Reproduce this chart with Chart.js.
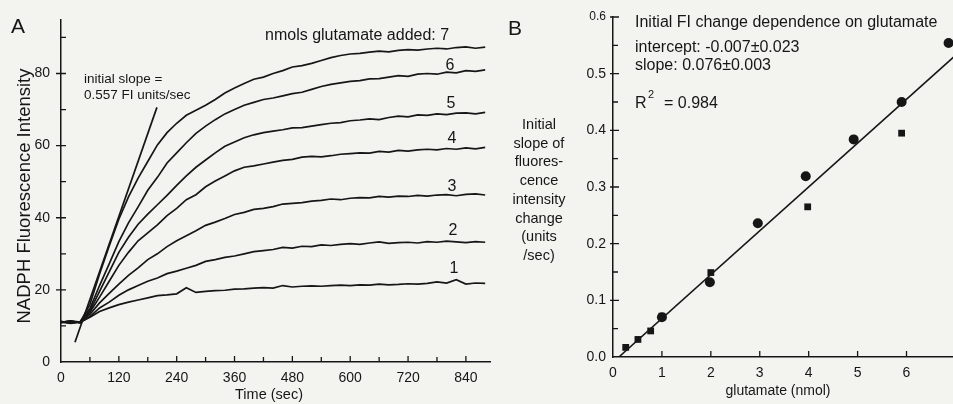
<!DOCTYPE html>
<html>
<head>
<meta charset="utf-8">
<title>NADPH fluorescence vs glutamate</title>
<script src="https://cdn.jsdelivr.net/npm/chart.js@4.4.1/dist/chart.umd.min.js"></script>
<style>
  html, body { margin: 0; padding: 0; }
  body { width: 953px; height: 404px; overflow: hidden; position: relative; background: #f3f3f0; }
  #panelA { position: absolute; left: 0; top: 0; }
  #panelB { position: absolute; left: 500px; top: 0; }
</style>
</head>
<body>
<canvas id="panelA" width="500" height="404"></canvas>
<canvas id="panelB" width="480" height="404"></canvas>
<script>
// ---- panel A: fluorescence traces, one per nmol glutamate added ----
const times = [0, 20, 40, 60, 80, 100, 120, 140, 160, 180,
  200, 220, 240, 260, 280, 300, 320, 340, 360, 380,
  400, 420, 440, 460, 480, 500, 520, 540, 560, 580,
  600, 620, 640, 660, 680, 700, 720, 740, 760, 780,
  800, 820, 840, 860, 880];

const trace1 = [11.2, 10.8, 11.1, 12.4, 14.0, 15.0, 15.9, 16.6, 17.2, 17.8,
  18.4, 18.6, 18.9, 20.6, 19.3, 19.6, 19.8, 19.9, 20.2, 20.3,
  20.5, 20.6, 20.5, 21.2, 20.8, 21.0, 21.1, 21.0, 21.2, 21.3,
  21.2, 21.4, 21.3, 21.6, 21.4, 21.5, 21.7, 21.6, 21.8, 22.2,
  21.9, 22.8, 21.6, 21.9, 21.8];
const trace2 = [11.0, 11.3, 10.9, 12.6, 15.0, 16.6, 18.5, 20.0, 21.2, 22.4,
  23.3, 24.5, 25.2, 26.0, 26.8, 27.9, 28.4, 29.0, 29.4, 30.0,
  30.6, 30.9, 31.2, 31.8, 31.6, 32.1, 32.0, 32.5, 32.3, 32.6,
  32.8, 32.6, 33.0, 33.3, 32.9, 33.1, 33.2, 33.0, 33.4, 33.2,
  33.5, 33.3, 33.1, 33.4, 33.2];
const trace3 = [11.1, 10.7, 11.2, 13.2, 16.4, 19.0, 21.6, 24.0, 26.1, 28.4,
  30.0, 32.0, 33.6, 35.0, 36.4, 37.9, 38.8, 39.8, 40.9, 41.5,
  42.3, 42.6, 43.1, 43.8, 44.0, 44.2, 44.6, 44.8, 45.2, 45.0,
  45.4, 45.6, 45.5, 45.9, 45.7, 46.0, 45.9, 46.2, 46.0, 46.3,
  46.4, 46.1, 46.5, 46.6, 46.3];
const trace4 = [11.0, 11.4, 10.8, 13.8, 18.0, 22.4, 26.8, 30.4, 33.6, 35.8,
  38.0, 40.6, 42.6, 45.0, 46.4, 48.6, 50.2, 51.6, 53.0, 54.0,
  54.4, 54.9, 55.4, 55.9, 56.2, 56.8, 57.0, 56.9, 57.2, 57.6,
  57.8, 58.0, 57.9, 58.4, 58.2, 58.7, 58.5, 58.8, 59.0, 58.8,
  59.2, 59.0, 59.4, 59.1, 59.5];
const trace5 = [10.9, 11.2, 11.0, 14.2, 19.6, 25.0, 30.4, 34.6, 38.2, 41.0,
  43.6, 46.2, 49.0, 51.6, 54.0, 56.0, 58.0, 59.8, 61.0, 62.2,
  63.0, 63.6, 64.0, 64.4, 64.9, 65.0, 65.4, 65.8, 66.2, 66.4,
  66.9, 67.1, 67.4, 67.2, 67.8, 68.2, 68.0, 68.5, 68.4, 68.8,
  68.6, 69.0, 69.1, 68.8, 69.2];
const trace6 = [11.3, 10.8, 11.2, 14.8, 21.2, 27.2, 33.4, 38.6, 43.0, 47.6,
  51.2, 55.2, 58.0, 60.8, 63.4, 65.4, 67.2, 68.8, 70.0, 71.2,
  72.0, 72.8, 73.2, 73.8, 74.4, 74.8, 75.6, 76.4, 77.0, 77.4,
  77.8, 78.0, 78.5, 78.6, 79.0, 79.4, 79.2, 79.8, 80.0, 79.8,
  80.4, 80.2, 80.8, 80.6, 81.0];
const trace7 = [11.0, 11.4, 11.1, 16.0, 24.4, 32.2, 39.6, 45.8, 51.0, 55.6,
  60.2, 63.6, 66.2, 68.4, 69.8, 71.2, 72.8, 74.6, 76.0, 77.2,
  78.4, 79.0, 80.0, 80.8, 81.8, 82.2, 82.8, 83.6, 84.4, 85.0,
  85.4, 85.6, 85.9, 86.2, 86.0, 86.4, 86.6, 86.5, 86.8, 87.0,
  86.8, 87.2, 87.4, 87.0, 87.3];

// hand-drawn initial slope line (sec, FI)
const slopeTimes = [29, 199];
const slopeValues = [5.5, 70.6];

const timeTicks = [0, 120, 240, 360, 480, 600, 720, 840];
const timeMinor = [60, 180, 300, 420, 540, 660, 780];
const fiTicks = [0, 20, 40, 60, 80];
const fiMinor = [10, 30, 50, 70, 90];

// ---- panel B: initial slope vs glutamate ----
const circleGlu = [1.0, 1.98, 2.96, 3.94, 4.92, 5.9, 6.86];
const circleRate = [0.070, 0.132, 0.236, 0.319, 0.384, 0.450, 0.554];
const squareGlu = [0.26, 0.51, 0.77, 1.0, 2.0, 3.98, 5.9];
const squareRate = [0.017, 0.031, 0.046, 0.072, 0.149, 0.265, 0.395];
const fitGlu = [0.12, 7.4];
const fitRate = [0, 0.563];

const gluTicks = [0, 1, 2, 3, 4, 5, 6];
const gluMarks = [1, 2, 3, 4, 5, 6, 7];
const rateTicks = [0, 0.1, 0.2, 0.3, 0.4, 0.5, 0.6];
const rateMinor = [0.05, 0.15, 0.25, 0.35, 0.45, 0.55];

const ink = '#161616';
const face = '"Liberation Sans", Arial, Helvetica, sans-serif';
Chart.defaults.font.family = face;
Chart.defaults.color = ink;

function pairs(xs, ys) {
  return xs.map((x, i) => ({ x: x, y: ys[i] }));
}

// tick marks drawn through the chart's scales (in/out lengths in px)
function tickMarks(xMarks, yMarks) {
  return {
    id: 'tickMarks',
    afterDatasetsDraw(chart) {
      const { ctx, chartArea: a, scales } = chart;
      ctx.save();
      ctx.strokeStyle = ink;
      ctx.lineWidth = 1.3;
      ctx.beginPath();
      xMarks.forEach(m => m.values.forEach(v => {
        const px = scales.x.getPixelForValue(v);
        ctx.moveTo(px, a.bottom + m.out);
        ctx.lineTo(px, a.bottom - m.in);
      }));
      yMarks.forEach(m => m.values.forEach(v => {
        const py = scales.y.getPixelForValue(v);
        ctx.moveTo(a.left - m.out, py);
        ctx.lineTo(a.left + m.in, py);
      }));
      ctx.stroke();
      ctx.restore();
    }
  };
}

function notes(items) {
  return {
    id: 'notes',
    afterDraw(chart) {
      const ctx = chart.ctx;
      items.forEach(n => {
        ctx.save();
        ctx.font = n.size + 'px ' + face;
        ctx.fillStyle = ink;
        ctx.textAlign = n.align || 'left';
        ctx.textBaseline = n.base || 'alphabetic';
        ctx.translate(n.x, n.y);
        if (n.rot) ctx.rotate(n.rot);
        ctx.fillText(n.text, 0, 0);
        ctx.restore();
      });
    }
  };
}

function lineSet(xs, ys) {
  return {
    data: pairs(xs, ys),
    borderColor: ink,
    borderWidth: 1.7,
    pointRadius: 0,
    tension: 0,
    fill: false
  };
}

const noAnim = {
  responsive: false,
  animation: false,
  events: [],
  plugins: { legend: { display: false }, tooltip: { enabled: false } }
};

new Chart('panelA', {
  type: 'line',
  data: {
    datasets: [trace1, trace2, trace3, trace4, trace5, trace6, trace7]
      .map(t => lineSet(times, t))
      .concat([lineSet(slopeTimes, slopeValues)])
  },
  options: {
    ...noAnim,
    layout: { padding: { top: 19, right: 10, left: 0, bottom: 0 } },
    scales: {
      x: {
        type: 'linear', min: 0, max: 890,
        afterFit: s => { s.height = 42; },
        afterBuildTicks: s => { s.ticks = timeTicks.map(v => ({ value: v })); },
        ticks: { font: { size: 14 }, padding: 8, maxRotation: 0, autoSkip: false },
        grid: { display: false, drawTicks: false },
        border: { color: ink, width: 1.5 }
      },
      y: {
        type: 'linear', min: 0, max: 95,
        afterFit: s => { s.width = 61; },
        afterBuildTicks: s => { s.ticks = fiTicks.map(v => ({ value: v })); },
        ticks: { font: { size: 14 }, padding: 11 },
        grid: { display: false, drawTicks: false },
        border: { color: ink, width: 1.5 }
      }
    }
  },
  plugins: [
    tickMarks(
      [{ values: timeTicks.slice(1), in: 6, out: 0 }, { values: timeMinor, in: 5, out: 0 }],
      [{ values: fiTicks.slice(1), in: 5, out: 5 }, { values: fiMinor, in: 5, out: 0 }]
    ),
    notes([
      { text: 'A', x: 11, y: 33, size: 21 },
      { text: 'NADPH Fluorescence Intensity', x: 25, y: 196, size: 18.5, align: 'center', base: 'middle', rot: -Math.PI / 2 },
      { text: 'Time (sec)', x: 269, y: 395, size: 14.5, align: 'center', base: 'middle' },
      { text: 'initial slope =', x: 84, y: 83, size: 13.5 },
      { text: '0.557 FI units/sec', x: 84, y: 99, size: 13.5 },
      { text: 'nmols glutamate added: 7', x: 265, y: 40, size: 16 },
      { text: '6', x: 450, y: 70, size: 16, align: 'center' },
      { text: '5', x: 451, y: 108, size: 16, align: 'center' },
      { text: '4', x: 452, y: 143, size: 16, align: 'center' },
      { text: '3', x: 452, y: 191, size: 16, align: 'center' },
      { text: '2', x: 453, y: 235, size: 16, align: 'center' },
      { text: '1', x: 454, y: 273, size: 16, align: 'center' }
    ])
  ]
});

const yTitleB = ['Initial', 'slope of', 'fluores-', 'cence', 'intensity', 'change', '(units', '/sec)'];

new Chart('panelB', {
  type: 'scatter',
  data: {
    datasets: [
      {
        data: pairs(fitGlu, fitRate),
        showLine: true, borderColor: ink, borderWidth: 1.6, pointRadius: 0, tension: 0
      },
      {
        data: pairs(circleGlu, circleRate),
        pointStyle: 'circle', pointRadius: 5,
        backgroundColor: ink, borderColor: ink, borderWidth: 0
      },
      {
        data: pairs(squareGlu, squareRate),
        pointStyle: 'rect', pointRadius: 4.8,
        backgroundColor: ink, borderColor: ink, borderWidth: 0
      }
    ]
  },
  options: {
    ...noAnim,
    layout: { padding: { top: 17, right: 4, left: 0, bottom: 0 } },
    scales: {
      x: {
        type: 'linear', min: 0, max: 7.4,
        afterFit: s => { s.height = 47; },
        afterBuildTicks: s => { s.ticks = gluTicks.map(v => ({ value: v })); },
        ticks: { font: { size: 14 }, padding: 8, maxRotation: 0, autoSkip: false },
        grid: { display: false, drawTicks: false },
        border: { color: ink, width: 1.5 }
      },
      y: {
        type: 'linear', min: 0, max: 0.6,
        afterFit: s => { s.width = 113; },
        afterBuildTicks: s => { s.ticks = rateTicks.map(v => ({ value: v })); },
        ticks: {
          padding: 7,
          font: c => ({ size: c.tick && c.tick.value === 0.6 ? 12 : 14 }),
          callback: v => v.toFixed(1)
        },
        grid: { display: false, drawTicks: false },
        border: { color: ink, width: 1.5 }
      }
    }
  },
  plugins: [
    tickMarks(
      [{ values: gluMarks, in: 6, out: 0 }],
      [{ values: rateTicks.slice(1), in: 6, out: 3 }, { values: rateMinor, in: 5, out: 0 }]
    ),
    notes([
      { text: 'B', x: 8, y: 35, size: 21 },
      { text: 'Initial FI change dependence on glutamate', x: 135, y: 27, size: 16 },
      { text: 'intercept: -0.007±0.023', x: 135, y: 52, size: 16 },
      { text: 'slope: 0.076±0.003', x: 135, y: 70, size: 16 },
      { text: 'R', x: 135, y: 108, size: 16 },
      { text: '2', x: 148, y: 98, size: 11 },
      { text: '= 0.984', x: 164, y: 108, size: 16 },
      { text: 'glutamate (nmol)', x: 278, y: 391, size: 14, align: 'center', base: 'middle' }
    ].concat(yTitleB.map((t, i) => ({
      text: t, x: 39, y: 125 + i * 18.7, size: 14.5, align: 'center', base: 'middle'
    }))))
  ]
});
</script>
</body>
</html>
